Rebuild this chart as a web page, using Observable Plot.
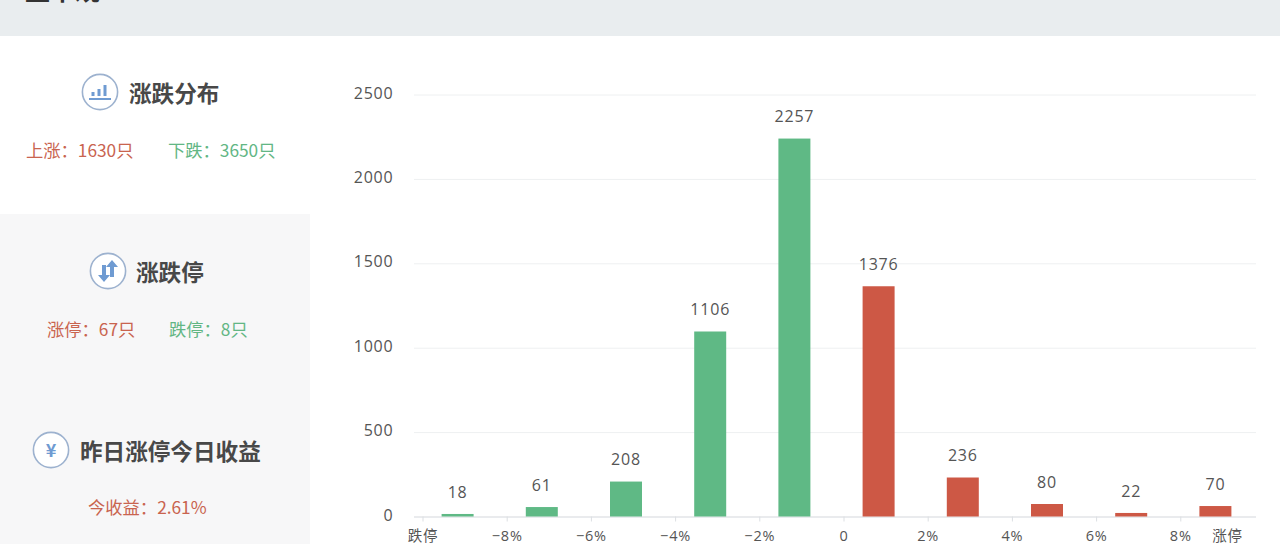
<!DOCTYPE html>
<html lang="zh">
<head>
<meta charset="utf-8">
<script src="https://cdn.jsdelivr.net/npm/d3@7"></script>
<script src="https://cdn.jsdelivr.net/npm/@observablehq/plot@0.6"></script>
<style>
html,body{margin:0;padding:0;background:#fff;overflow:hidden}
body{width:1280px;height:544px;position:relative;font-family:"Noto Sans CJK SC",sans-serif}
.hdr{position:absolute;left:0;top:0;width:1280px;height:36px;background:#e9edef;overflow:hidden}
.hdr span{position:absolute;left:25px;top:-29px;font-size:25px;line-height:37px;font-weight:700;color:#333}
.side{position:absolute;left:0;top:214px;width:310px;height:330px;background:#f7f7f8}
.t{position:absolute;white-space:nowrap;transform:translateY(-50%);line-height:1}
.title{font-weight:700;font-size:22.6px;color:#484848}
.stat{font-size:17.3px}
.r{color:#c9644f}.g{color:#62b684}
.icon{position:absolute;width:38px;height:38px}
#chart{position:absolute;left:320px;top:36px}
</style>
</head>
<body>
<div class="hdr"><span>盘中观</span></div>
<div class="side"></div>

<svg class="icon" style="left:81px;top:73px" viewBox="0 0 38 38"><circle cx="19" cy="19" r="17.6" fill="#fff" stroke="#9db2cf" stroke-width="1.6"/><path d="M8 26h22" stroke="#6f9bd2" stroke-width="2"/><path d="M12 23v-4M18 23v-7M24 23v-11" stroke="#6f9bd2" stroke-width="3"/></svg>
<div class="t title" style="left:129px;top:93px">涨跌分布</div>
<div class="t stat r" style="left:26px;top:150px">上涨：1630只</div>
<div class="t stat g" style="left:168px;top:150px">下跌：3650只</div>

<svg class="icon" style="left:89px;top:252px" viewBox="0 0 38 38"><circle cx="19" cy="19" r="17.6" fill="#fff" stroke="#9db2cf" stroke-width="1.6"/><path d="M13 13v10h-4l6 7 6-7h-4V13zM25 25V15h4l-6-7-6 7h4v10z" fill="#6f9bd2"/></svg>
<div class="t title" style="left:136px;top:272px">涨跌停</div>
<div class="t stat r" style="left:47px;top:329px">涨停：67只</div>
<div class="t stat g" style="left:169px;top:329px">跌停：8只</div>

<svg class="icon" style="left:32px;top:431px" viewBox="0 0 38 38"><circle cx="19" cy="19" r="17.6" fill="#fff" stroke="#9db2cf" stroke-width="1.6"/><text x="19" y="25.5" text-anchor="middle" font-size="18" font-weight="700" fill="#6f9bd2" font-family="Noto Sans CJK SC">¥</text></svg>
<div class="t title" style="left:80px;top:451px">昨日涨停今日收益</div>
<div class="t stat r" style="left:88px;top:507px">今收益：2.61%</div>

<div id="chart"></div>
<script>
const binCenters = [-9, -7, -5, -3, -1, 1, 3, 5, 7, 9];
const countLabels = [18, 61, 208, 1106, 2257, 1376, 236, 80, 22, 70];
const barHeights = [15, 56, 207, 1096, 2239, 1364, 231, 74, 21, 62];
const xTicks = [-10, -8, -6, -4, -2, 0, 2, 4, 6, 8];
const xTickLabels = ["跌停", "−8%", "−6%", "−4%", "−2%", "0", "2%", "4%", "6%", "8%"];
const yTicks = [0, 500, 1000, 1500, 2000, 2500];
const lastLabel = "涨停";
const green = "#5fb985", red = "#cd5845";

const rows = binCenters.map((c, i) => ({c, n: String(countLabels[i]), h: barHeights[i]}));
const halfBar = 0.38;
const font = '"Open Sans","Noto Sans CJK SC",sans-serif';

const plot = Plot.plot({
  width: 960,
  height: 508,
  marginLeft: 94,
  marginRight: 24,
  marginTop: 58.5,
  marginBottom: 27.5,
  style: {background: "transparent", fontFamily: font, fontSize: "15px", color: "#555", letterSpacing: "0.8px"},
  x: {domain: [-10, 10], axis: null, label: null},
  y: {domain: [0, 2500], axis: null, label: null},
  marks: [
    Plot.gridY(yTicks, {stroke: "#eef0f1", strokeOpacity: 1}),
    Plot.ruleY([0], {stroke: "#dcdfe3"}),
    Plot.axisX(xTicks, {
      tickSize: 5, tickPadding: 9, stroke: "#dcdfe3", fill: "#555", label: null,
      tickFormat: d => xTickLabels[xTicks.indexOf(d)],
      textAnchor: "middle", dx: 8.5, fontSize: 14.5
    }),
    Plot.text([lastLabel], {x: [10], y: [0], dx: -29, dy: 19.5, fill: "#555", fontSize: 14.5}),
    Plot.axisY(yTicks, {tickSize: 0, tickPadding: 21, dy: -1.5, fill: "#555", fontSize: 16, label: null, tickFormat: d => String(d)}),
    Plot.rectY(rows, {
      x1: d => d.c - halfBar, x2: d => d.c + halfBar, y: "h", dx: 1.5,
      fill: d => d.c < 0 ? green : red
    }),
    Plot.text(rows, {x: "c", y: "h", text: "n", dx: 1, dy: -22, fill: "#555", fontSize: 16})
  ]
});
document.getElementById("chart").appendChild(plot);
</script>
</body>
</html>
